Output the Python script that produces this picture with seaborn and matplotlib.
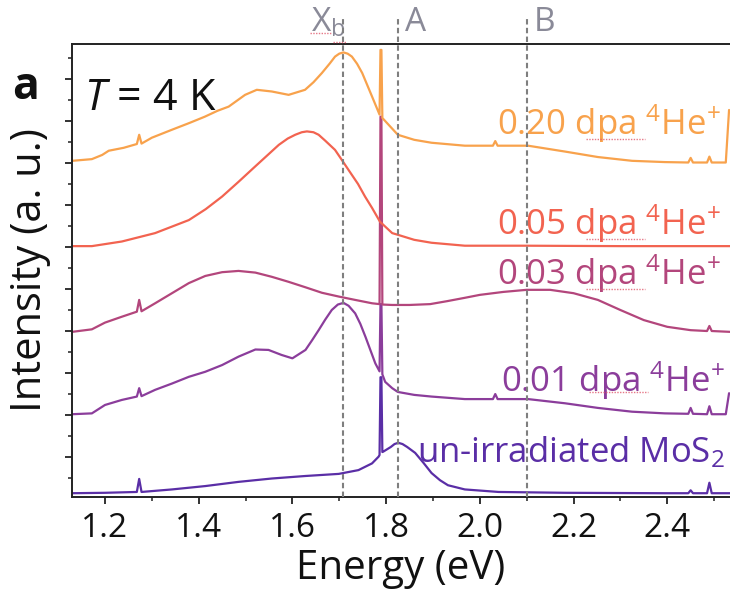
import numpy as np
import pandas as pd
import matplotlib
matplotlib.use("Agg")
import matplotlib.pyplot as plt
from matplotlib.lines import Line2D
import seaborn as sns

# ---------------- data ----------------
energy_020 = [1.130, 1.172, 1.194, 1.208, 1.240, 1.268, 1.273, 1.278, 1.300, 1.343, 1.380, 1.413,
              1.440, 1.464, 1.499, 1.524, 1.556, 1.592, 1.627, 1.645, 1.663, 1.680, 1.691, 1.700,
              1.709, 1.718, 1.727, 1.738, 1.749, 1.770, 1.786, 1.788, 1.790, 1.792, 1.825, 1.860,
              1.897, 1.968, 2.028, 2.033, 2.038, 2.103, 2.182, 2.252, 2.325, 2.395, 2.445, 2.450,
              2.455, 2.485, 2.490, 2.495, 2.525, 2.532]
inten_020 = [8.05, 8.09, 8.19, 8.29, 8.36, 8.45, 8.67, 8.46, 8.60, 8.79, 8.95, 9.10,
             9.24, 9.34, 9.62, 9.74, 9.70, 9.62, 9.74, 9.92, 10.14, 10.37, 10.53, 10.60,
             10.63, 10.60, 10.53, 10.36, 10.14, 9.58, 9.15, 10.69, 10.69, 9.07, 8.67, 8.55,
             8.48, 8.41, 8.41, 8.52, 8.41, 8.41, 8.27, 8.14, 8.05, 8.02, 8.01, 8.12,
             8.01, 8.01, 8.15, 8.01, 8.01, 9.26]

energy_005 = [1.130, 1.172, 1.236, 1.307, 1.379, 1.415, 1.450, 1.485, 1.520, 1.571, 1.590, 1.606,
              1.620, 1.631, 1.645, 1.656, 1.670, 1.691, 1.705, 1.720, 1.740, 1.755, 1.770, 1.787,
              1.813, 1.825, 1.860, 1.897, 1.968, 2.100, 2.300, 2.534]
inten_005 = [6.02, 6.02, 6.13, 6.33, 6.64, 6.90, 7.20, 7.55, 7.91, 8.43, 8.58, 8.67,
             8.73, 8.75, 8.73, 8.67, 8.53, 8.31, 8.08, 7.83, 7.50, 7.20, 6.93, 6.60,
             6.33, 6.29, 6.17, 6.10, 6.03, 6.03, 6.02, 6.02]

energy_003 = [1.130, 1.172, 1.200, 1.236, 1.268, 1.273, 1.278, 1.307, 1.343, 1.379, 1.414, 1.450,
              1.485, 1.521, 1.556, 1.592, 1.628, 1.663, 1.699, 1.734, 1.770, 1.786, 1.788, 1.790,
              1.792, 1.813, 1.850, 1.894, 1.930, 1.968, 2.000, 2.050, 2.100, 2.150, 2.200, 2.252,
              2.300, 2.350, 2.400, 2.450, 2.485, 2.490, 2.495, 2.534]
inten_003 = [3.98, 4.04, 4.20, 4.34, 4.46, 4.74, 4.47, 4.66, 4.90, 5.14, 5.31, 5.40,
             5.43, 5.39, 5.29, 5.17, 5.04, 4.91, 4.82, 4.74, 4.66, 4.64, 9.10, 9.10,
             4.63, 4.62, 4.62, 4.64, 4.71, 4.79, 4.86, 4.93, 4.98, 4.98, 4.90, 4.74,
             4.50, 4.26, 4.10, 4.02, 4.00, 4.12, 4.00, 3.98]

energy_001 = [1.130, 1.172, 1.200, 1.236, 1.268, 1.273, 1.278, 1.307, 1.343, 1.379, 1.414, 1.450,
              1.485, 1.521, 1.549, 1.577, 1.600, 1.628, 1.642, 1.656, 1.670, 1.684, 1.697, 1.709,
              1.720, 1.734, 1.745, 1.756, 1.777, 1.786, 1.788, 1.790, 1.792, 1.798, 1.813, 1.825,
              1.860, 1.897, 1.968, 2.028, 2.033, 2.038, 2.103, 2.182, 2.252, 2.325, 2.395, 2.445,
              2.450, 2.455, 2.485, 2.490, 2.495, 2.525, 2.532]
inten_001 = [2.02, 2.04, 2.24, 2.36, 2.44, 2.64, 2.45, 2.60, 2.75, 2.91, 3.03, 3.19,
             3.39, 3.56, 3.55, 3.43, 3.35, 3.55, 3.78, 4.02, 4.27, 4.50, 4.63, 4.67,
             4.60, 4.42, 4.17, 3.86, 3.23, 3.04, 4.64, 4.64, 2.97, 2.79, 2.64, 2.55,
             2.48, 2.44, 2.38, 2.38, 2.50, 2.38, 2.38, 2.28, 2.17, 2.08, 2.04, 2.03,
             2.17, 2.03, 2.02, 2.21, 2.02, 2.02, 2.52]

energy_unirr = [1.130, 1.200, 1.268, 1.273, 1.278, 1.343, 1.414, 1.485, 1.556, 1.628, 1.699, 1.741,
                1.770, 1.784, 1.786, 1.788, 1.790, 1.792, 1.794, 1.810, 1.818, 1.826, 1.835, 1.845,
                1.862, 1.880, 1.897, 1.915, 1.932, 1.968, 2.040, 2.182, 2.395, 2.445, 2.450, 2.455,
                2.485, 2.490, 2.495, 2.534]
inten_unirr = [0.14, 0.15, 0.17, 0.48, 0.17, 0.23, 0.31, 0.41, 0.49, 0.55, 0.60, 0.69,
               0.85, 1.01, 1.05, 2.90, 2.90, 1.12, 1.13, 1.24, 1.31, 1.34, 1.31, 1.24,
               1.10, 0.86, 0.62, 0.45, 0.33, 0.23, 0.17, 0.15, 0.14, 0.14, 0.21, 0.14,
               0.14, 0.39, 0.14, 0.14]

series_names = ["un-irradiated", "0.01 dpa", "0.03 dpa", "0.05 dpa", "0.20 dpa"]
series_colors = ["#5a2ea6", "#8b3d9b", "#b3467c", "#f26350", "#f8a24c"]
series_labels = [r"un-irradiated MoS$_2$",
                 r"0.01 dpa $^{4}$He$^{+}$",
                 r"0.03 dpa $^{4}$He$^{+}$",
                 r"0.05 dpa $^{4}$He$^{+}$",
                 r"0.20 dpa $^{4}$He$^{+}$"]
label_pos_x = [1.866, 2.046, 2.036, 2.036, 2.036]
label_pos_y = [0.88, 2.55, 5.10, 6.29, 8.67]

ref_lines_x = [1.708, 1.825, 2.100]
ref_lines_text = [r"X$_\mathrm{b}$", "A", "B"]
ref_text_x = [1.640, 1.840, 2.116]

x_ticks = [1.2, 1.4, 1.6, 1.8, 2.0, 2.2, 2.4]

# ---------------- style ----------------
sns.set_theme(style="ticks")
plt.rcParams["font.family"] = ["Open Sans", "DejaVu Sans"]
plt.rcParams["mathtext.fontset"] = "custom"
plt.rcParams["mathtext.rm"] = "Open Sans"
plt.rcParams["mathtext.it"] = "Open Sans:italic"
plt.rcParams["mathtext.bf"] = "Open Sans:bold"

W, H = 730, 604
fig = plt.figure(figsize=(W / 100, H / 100), dpi=100)
ax = fig.add_axes([72 / W, 1 - 497 / H, 1 - 72 / W, (497 - 44) / H])

all_x = [energy_unirr, energy_001, energy_003, energy_005, energy_020]
all_y = [inten_unirr, inten_001, inten_003, inten_005, inten_020]

for name, xs, ys, col in zip(series_names, all_x, all_y, series_colors):
    df = pd.DataFrame({"Energy": xs, "Intensity": ys})
    sns.lineplot(data=df, x="Energy", y="Intensity", color=col, lw=1.6,
                 estimator=None, sort=False, ax=ax)

ax.set_xlim(1.1296, 2.534)
ax.set_ylim(0.05, 10.83)

for xv, txt, tx in zip(ref_lines_x, ref_lines_text, ref_text_x):
    ax.axvline(xv, ymin=0, ymax=1.057, color="#7f7f7f", lw=1.5,
               dashes=(2.6, 1.6), clip_on=False, zorder=5)
    ax.annotate(txt, xy=(tx, 1.028), xycoords=("data", "axes fraction"),
                ha="left", va="baseline", fontsize=24, color="#8a8a98",
                annotation_clip=False)

for lab, col, lx, ly in zip(series_labels, series_colors, label_pos_x, label_pos_y):
    ax.text(lx, ly, lab, color=col, fontsize=25, ha="left", va="baseline",
            clip_on=False)

# red spell-check squiggles seen under "dpa" and "X" in the reference (pixel positions)
squiggles_px = [(586, 645, 139), (586, 645, 239), (586, 645, 289), (589, 648, 392),
                (310, 332, 33), (333, 346, 42)]
for x0, x1, yy in squiggles_px:
    fig.add_artist(Line2D([x0 / W, x1 / W], [1 - yy / H, 1 - yy / H],
                          transform=fig.transFigure, color="#e0566a", lw=1.0,
                          ls=(0, (1, 1)), alpha=0.8))

ax.text(0.018, 0.855, r"$\mathit{T}$ = 4 K", transform=ax.transAxes, fontsize=31,
        ha="left", va="baseline", color="#111111")
fig.text(12 / W, 1 - 99 / H, "a", fontsize=32, fontweight="bold",
         ha="left", va="baseline", color="#111111")

ax.set_xticks(x_ticks)
ax.set_xticklabels([f"{v:.1f}" for v in x_ticks])
ax.xaxis.set_minor_locator(matplotlib.ticker.MultipleLocator(0.1))
ax.yaxis.set_major_locator(matplotlib.ticker.MultipleLocator(1.0))
ax.yaxis.set_minor_locator(matplotlib.ticker.MultipleLocator(0.5))
ax.set_yticklabels([])
ax.tick_params(axis="both", which="major", direction="out", length=5, width=1.3,
               color="#222222", labelsize=24, labelcolor="#111111", pad=6)
ax.tick_params(axis="both", which="minor", direction="out", length=3, width=1.1,
               color="#222222")
ax.tick_params(axis="y", which="both", labelleft=False)

ax.set_xlabel("Energy (eV)", fontsize=29, color="#111111", labelpad=2)
ax.set_ylabel("Intensity (a. u.)", fontsize=30, color="#111111", labelpad=10)

for side in ["left", "top", "bottom"]:
    ax.spines[side].set_linewidth(1.4)
    ax.spines[side].set_color("#222222")
ax.spines["right"].set_visible(False)

fig.savefig("out.png", dpi=100)
